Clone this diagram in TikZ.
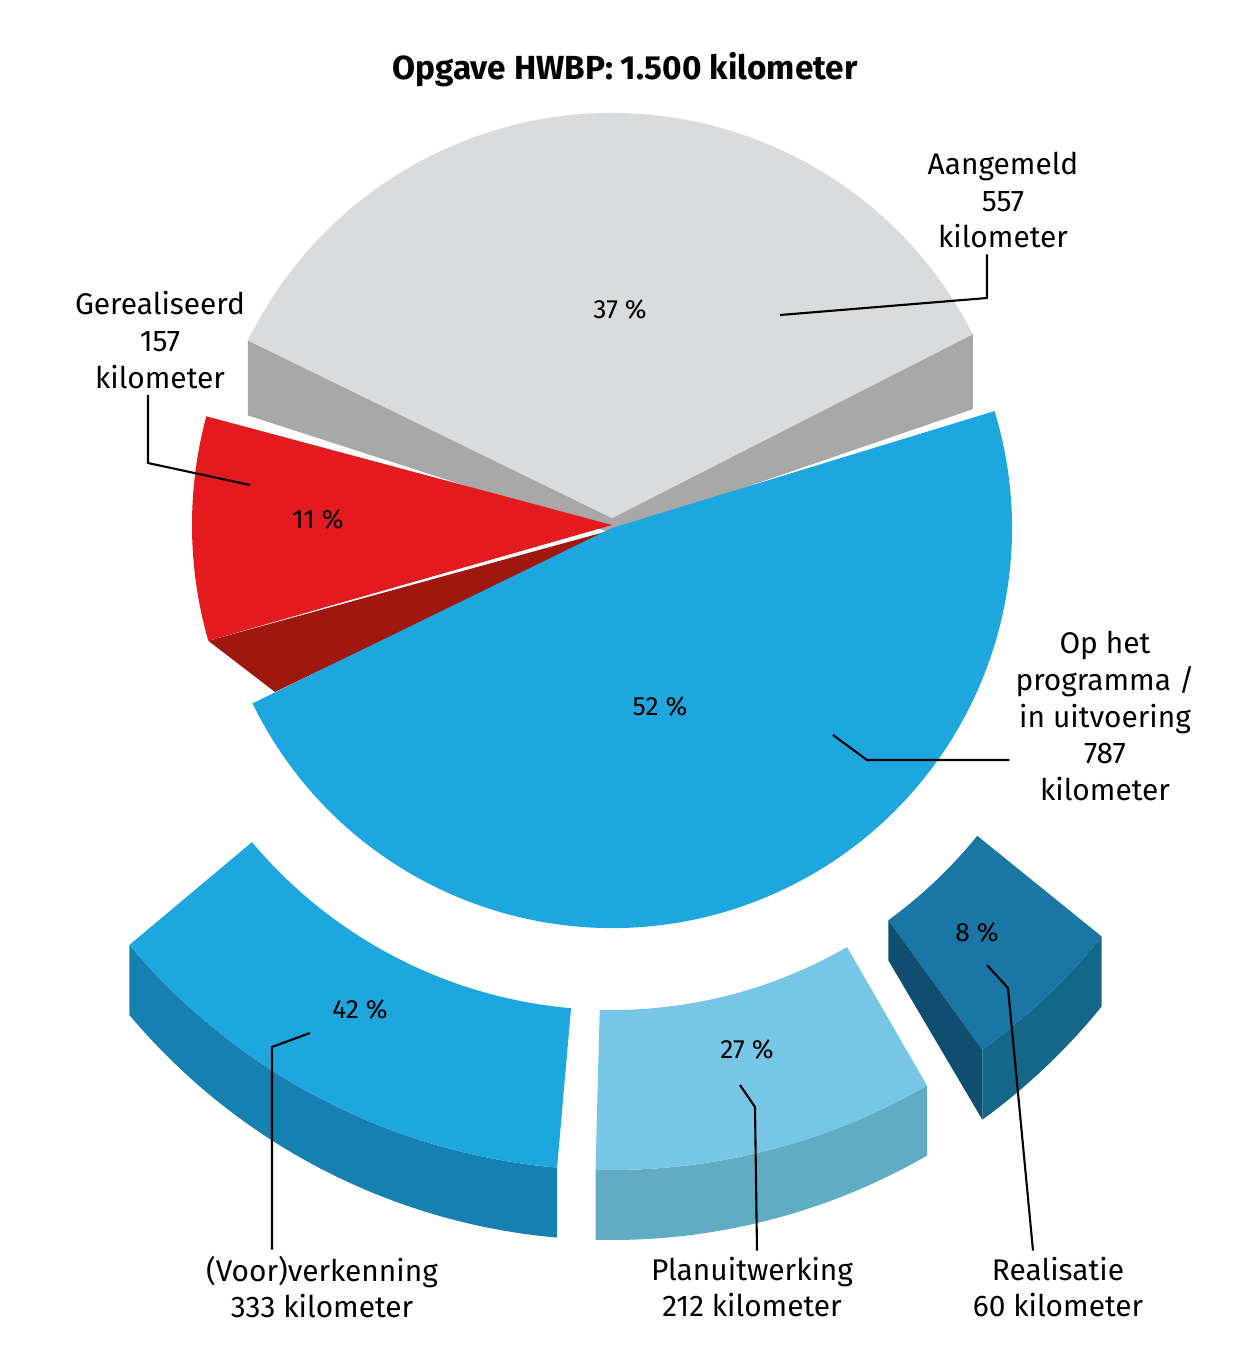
\documentclass[tikz,border=0pt]{standalone}
\usepackage{fontspec}
\setmainfont{Fira Sans}
\usepackage{tikz}
\usetikzlibrary{calc}
\definecolor{greytop}{HTML}{D9DBDC}
\definecolor{greyside}{HTML}{A8A8A9}
\definecolor{redtop}{HTML}{E31B1F}
\definecolor{redside}{HTML}{9E1810}
\definecolor{bluetop}{HTML}{1EA7DF}
\definecolor{blueside}{HTML}{1680B0}
\definecolor{lighttop}{HTML}{78C6E5}
\definecolor{lightside}{HTML}{5FACC3}
\definecolor{darktop}{HTML}{1A77A5}
\definecolor{darkside}{HTML}{156789}
\definecolor{darkend}{HTML}{0F4E6E}
\tikzset{
	label text/.style={align=center,font=\fontsize{17}{21}\selectfont},
	pct text/.style={font=\fontsize{15}{18}\selectfont},
	leader/.style={draw=black,line width=1.2pt}
}
\newcommand\ringpiece[4]{%
	\fill[#4] (#1:630) arc[start angle=#1,end angle=#2,radius=630] -- ++(0,-70)
	  arc[start angle=#2,end angle=#1,radius=630] -- cycle;
	\fill[#3] (#1:470) -- (#1:630) arc[start angle=#1,end angle=#2,radius=630]
	  -- (#2:470) arc[start angle=#2,end angle=#1,radius=470] -- cycle;
}

\begin{document}
\begin{tikzpicture}[x=0.02cm,y=0.02cm]
	\useasboundingbox (0,0) rectangle (1250,-1370);
	\node [font=\fontsize{19}{23}\selectfont\bfseries] (title) at (625,-70) {Opgave HWBP: 1.500 kilometer};
	% grey slice
	\coordinate (gc) at (612,-518);
	\coordinate (gl) at ($(gc)+(154:405)$);
	\coordinate (gr) at ($(gc)+(27:405)$);
	\fill[greyside] (gl) -- ($(gl)+(0,-75)$) -- (612,-533) -- ($(gr)+(0,-75)$) -- (gr) -- (gc) -- cycle;
	\fill[greytop] (gc) -- (gr) arc[start angle=27,end angle=154,radius=405] -- cycle;
	% red slice
	\coordinate (rc) at (612,-525);
	\fill[redside] (612,-530) -- ($(rc)+(196:420)$) -- (275,-692) -- cycle;
	\fill[redtop] (rc) -- ($(rc)+(165:420)$) arc[start angle=165,end angle=196,radius=420] -- cycle;
	% blue slice
	\coordinate (bc) at (612,-528);
	\fill[bluetop] (bc) -- ($(bc)+(206:400)$) arc[start angle=206,end angle=377,radius=400] -- cycle;
	% ring below
	\begin{scope}[shift={(612,-540)}]
		\ringpiece{220}{265}{bluetop}{blueside}
		\ringpiece{268.5}{300}{lighttop}{lightside}
		\ringpiece{306}{321}{darktop}{darkside}
		\fill[darkend] (306:470) -- (306:630) -- ++(0,-70) -- ($(306:470)+(0,-40)$) -- cycle;
	\end{scope}
	% labels
	\node [label text] (aang) at (1003,-200) {Aangemeld\\557\\kilometer};
	\node [label text] (gere) at (160,-340) {Gerealiseerd\\157\\kilometer};
	\node [label text] (prog) at (1105,-716) {Op het\\programma /\\in uitvoering\\787\\kilometer};
	\node [label text] (voor) at (322,-1287) {(Voor)verkenning\\333 kilometer};
	\node [label text] (plan) at (752,-1287) {Planuitwerking\\212 kilometer};
	\node [label text] (real) at (1058,-1287) {Realisatie\\60 kilometer};
	\node [pct text] (p37) at (620,-310) {37 \%};
	\node [pct text] (p11) at (318,-520) {11 \%};
	\node [pct text] (p52) at (660,-707) {52 \%};
	\node [pct text] (p42) at (360,-1010) {42 \%};
	\node [pct text] (p27) at (747,-1050) {27 \%};
	\node [pct text] (p8) at (977,-933) {8 \%};
	% leaders
	\coordinate (a1) at (780,-315);
	\coordinate (g1) at (250,-485);
	\coordinate (o1) at (833,-735);
	\coordinate (v1) at (310,-1033);
	\coordinate (l1) at (740,-1085);
	\coordinate (r1) at (987,-965);
	\draw[leader] (a1) -- (987,-298) -- (aang.south -| 987,0);
	\draw[leader] (g1) -- (148,-463) -- (gere.south -| 148,0);
	\draw[leader] (o1) -- (867,-760) -- (prog.west |- 0,-760);
	\draw[leader] (v1) -- (272,-1047) -- (voor.north -| 272,0);
	\draw[leader] (l1) -- (755,-1107) -- (plan.north -| 757,0);
	\draw[leader] (r1) -- (1008,-988) -- (real.north -| 1033,0);
\end{tikzpicture}
\end{document}
